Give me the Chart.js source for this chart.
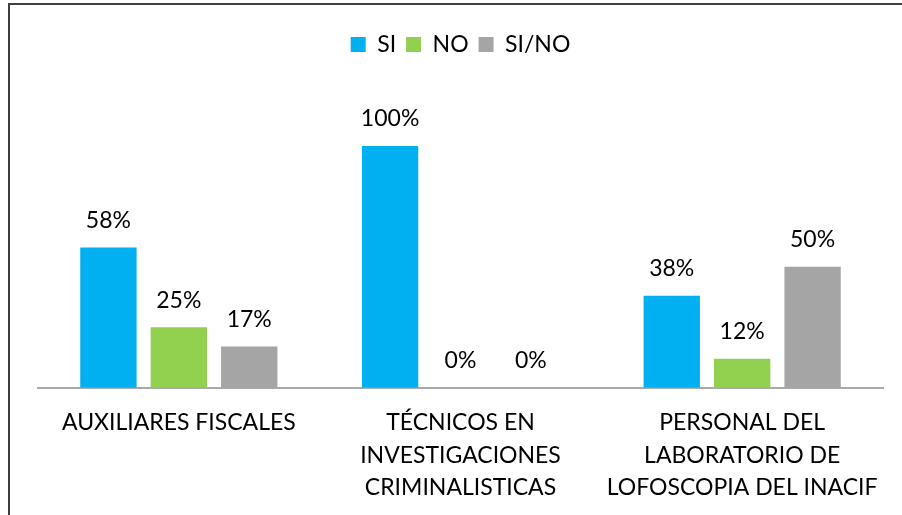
<!DOCTYPE html>
<html>
<head>
<meta charset="utf-8">
<script src="https://cdn.jsdelivr.net/npm/chart.js@4.4.1/dist/chart.umd.min.js"></script>
<style>
    body { margin: 0; background: #fff; }
    #wrap { position: relative; width: 902px; height: 515px; overflow: hidden; }
    #frame {
        position: absolute; left: 8px; top: 3px; width: 1000px; height: 1000px;
        border-left: 2px solid #404040; border-top: 2px solid #404040;
        pointer-events: none;
    }
</style>
</head>
<body>
<div id="wrap">
    <canvas id="chart" width="902" height="515"></canvas>
    <div id="frame"></div>
</div>
<script>
// Chart data
const categories = [
    'AUXILIARES FISCALES',
    ['TÉCNICOS EN', 'INVESTIGACIONES', 'CRIMINALISTICAS'],
    ['PERSONAL DEL', 'LABORATORIO DE', 'LOFOSCOPIA DEL INACIF']
];
const siValues = [58, 100, 38];
const noValues = [25, 0, 12];
const siNoValues = [17, 0, 50];

const FONT = 'Lato';

// Percent labels above every bar
const valueLabels = {
    id: 'valueLabels',
    afterDatasetsDraw(chart) {
        const ctx = chart.ctx;
        ctx.save();
        ctx.font = '23px ' + FONT;
        ctx.fillStyle = '#000';
        ctx.textAlign = 'center';
        ctx.textBaseline = 'middle';
        chart.data.datasets.forEach((ds, i) => {
            chart.getDatasetMeta(i).data.forEach((bar, j) => {
                ctx.fillText(ds.data[j] + '%', bar.x, bar.y - 27);
            });
        });
        ctx.restore();
    }
};

// Extra space under the legend so the plot starts lower
const legendGap = {
    id: 'legendGap',
    beforeInit(chart) {
        const origFit = chart.legend.fit;
        chart.legend.fit = function() {
            origFit.bind(chart.legend)();
            this.height += 80;
        };
    }
};

new Chart(document.getElementById('chart'), {
    type: 'bar',
    data: {
        labels: categories,
        datasets: [
            { label: 'SI', data: siValues, backgroundColor: '#00B0F0' },
            { label: 'NO', data: noValues, backgroundColor: '#92D050' },
            { label: 'SI/NO', data: siNoValues, backgroundColor: '#A5A5A5' }
        ]
    },
    options: {
        responsive: false,
        animation: false,
        categoryPercentage: 0.75,
        barPercentage: 0.8,
        layout: { padding: { left: 38, right: 19, top: 23, bottom: -8 } },
        plugins: {
            legend: {
                position: 'top',
                labels: {
                    boxWidth: 15,
                    boxHeight: 15,
                    padding: 10,
                    color: '#000',
                    font: { family: FONT, size: 23 }
                }
            },
            tooltip: { enabled: false }
        },
        scales: {
            y: { display: false, min: 0, max: 100 },
            x: {
                grid: { display: false, drawTicks: false },
                border: { color: '#A9A9A9', width: 2 },
                ticks: {
                    color: '#000',
                    padding: 19,
                    autoSkip: false,
                    maxRotation: 0,
                    font: { family: FONT, size: 23, lineHeight: 1.41 }
                }
            }
        }
    },
    plugins: [valueLabels, legendGap]
});
</script>
</body>
</html>
